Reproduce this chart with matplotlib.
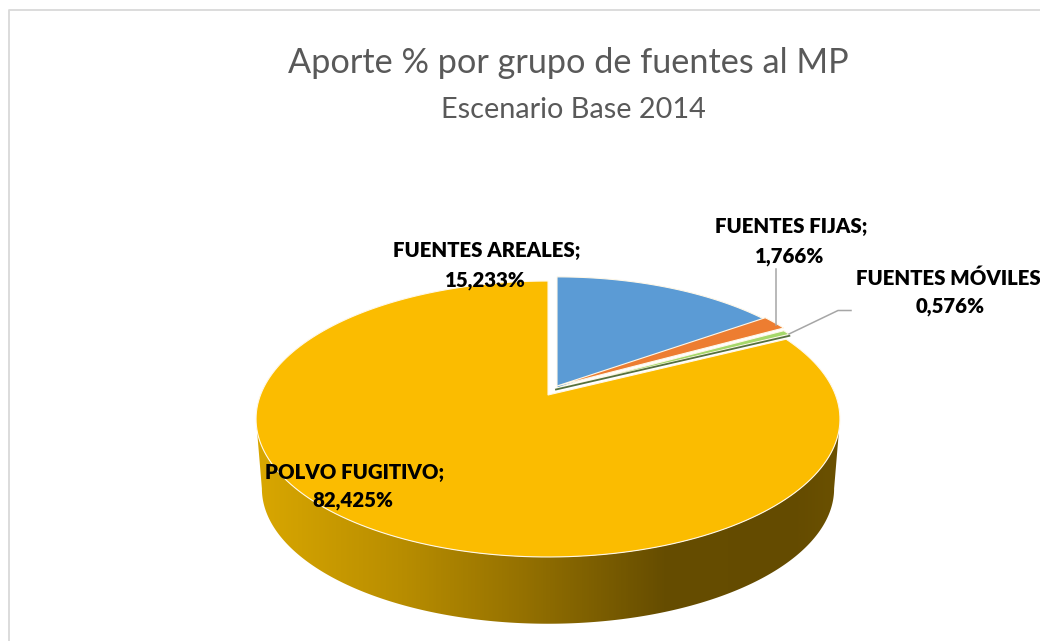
# -*- coding: utf-8 -*-
import matplotlib
matplotlib.use("Agg")
import matplotlib.pyplot as plt
from matplotlib.colors import LinearSegmentedColormap
from matplotlib.patches import Polygon
import numpy as np

# datos
grupos = ["FUENTES AREALES", "FUENTES FIJAS", "FUENTES MÓVILES", "POLVO FUGITIVO"]
aporte = [15.233, 1.766, 0.576, 82.425]
titulo = "Aporte % por grupo de fuentes al MP"
subtitulo = "Escenario Base 2014"

colores = ["#5B9BD5", "#ED7D31", "#A5D86A", "#FBBC00"]
# vertice de cada porcion (en pixeles), las tres chicas estan separadas
vertices = [(557, 388), (557, 386), (556, 389), (548, 395)]
escalas = [0.975, 0.975, 0.98, 1.0]

# perspectiva de la torta
A, B, K = 287.5, 133.8, 0.174
PROF = 70


def proyecta(theta, cx, cy, esc=1.0):
    w = 1 + K * np.cos(theta)
    return cx + esc * A * np.sin(theta) / w, cy - esc * B * np.cos(theta) / w


def porcion(ini, fin, vertice, esc):
    t = np.linspace(ini, fin, 200)
    x, y = proyecta(t, vertice[0], vertice[1], esc)
    return np.column_stack([np.r_[vertice[0], x], np.r_[vertice[1], y]])


fig = plt.figure(figsize=(10.4, 6.41), dpi=100)
ax = fig.add_axes([0, 0, 1, 1])
ax.axis("off")

# lado con degradado
cx0, cy0 = vertices[3]
t = np.radians(np.linspace(100, 260, 300))
xs, ys = proyecta(t, cx0, cy0)
xi, yi = proyecta(t, cx0, cy0, 0.98)
lado = Polygon(np.column_stack([np.r_[xs, xi[::-1]], np.r_[ys, yi[::-1] + PROF]]),
               closed=True, fc="none", ec="none", transform=ax.transData)
ax.add_patch(lado)
cmap = LinearSegmentedColormap.from_list("lado", [
    (0.0, "#D9A700"), (0.25, "#B88D00"), (0.45, "#967200"),
    (0.7, "#664D00"), (0.92, "#644B00"), (1.0, "#6B5100")])
im = ax.imshow(np.linspace(0, 1, 600).reshape(1, -1), cmap=cmap, aspect="auto",
               extent=(256, 840, 641, 400), zorder=1)
im.set_clip_path(lado)

# caras superiores
total = sum(aporte)
acum = 0
for valor, color, vertice, esc in zip(aporte, colores, vertices, escalas):
    ini = acum / total * 2 * np.pi
    acum += valor
    fin = acum / total * 2 * np.pi
    ax.add_patch(Polygon(porcion(ini, fin, vertice, esc), closed=True, fc=color,
                         ec="#FFF8E8", lw=0.8, zorder=2))

# borde oscuro de la porcion verde
ang = (aporte[0] + aporte[1] + aporte[2]) / total * 2 * np.pi
xv, yv = vertices[2]
xb, yb = proyecta(ang, xv, yv, escalas[2])
ax.plot([xv, xb], [yv + 0.5, yb + 1.5], color="#55703C", lw=1.3, zorder=3)

# lineas guia
ax.plot([776, 776], [269, 325], color="#A6A6A6", lw=1.1, zorder=4)
ax.plot([789, 838, 851], [334, 310.5, 310.5], color="#A6A6A6", lw=1.1, zorder=4)

# marco
ax.plot([8.5, 8.5, 1040], [641, 9.5, 9.5], color="#D9D9D9", lw=1.3, zorder=0)

ax.set_xlim(0, 1040)
ax.set_ylim(641, 0)

# textos
fuente = "Lato"
ax.text(568.5, 63, titulo, ha="center", va="center", fontsize=24.7, color="#595959", family=fuente)
ax.text(573.5, 110, subtitulo, ha="center", va="center", fontsize=20.8, color="#595959", family=fuente)

# x del nombre, y del nombre, x del porcentaje, y del porcentaje
posiciones = [(486.5, 251, 485, 280), (791, 226, 790, 256), (951, 277, 950, 306), (354.5, 473, 353, 501)]
for nombre, valor, (x1, y1, x2, y2) in zip(grupos, aporte, posiciones):
    pct = f"{valor:.3f}%".replace(".", ",")
    ax.text(x1, y1, nombre + ";", ha="center", va="center", fontsize=14.7,
            fontweight="heavy", color="black", family=fuente, zorder=5)
    ax.text(x2, y2, pct, ha="center", va="center", fontsize=14.7,
            fontweight="heavy", color="black", family=fuente, zorder=5)

fig.savefig("out.png", dpi=100)
